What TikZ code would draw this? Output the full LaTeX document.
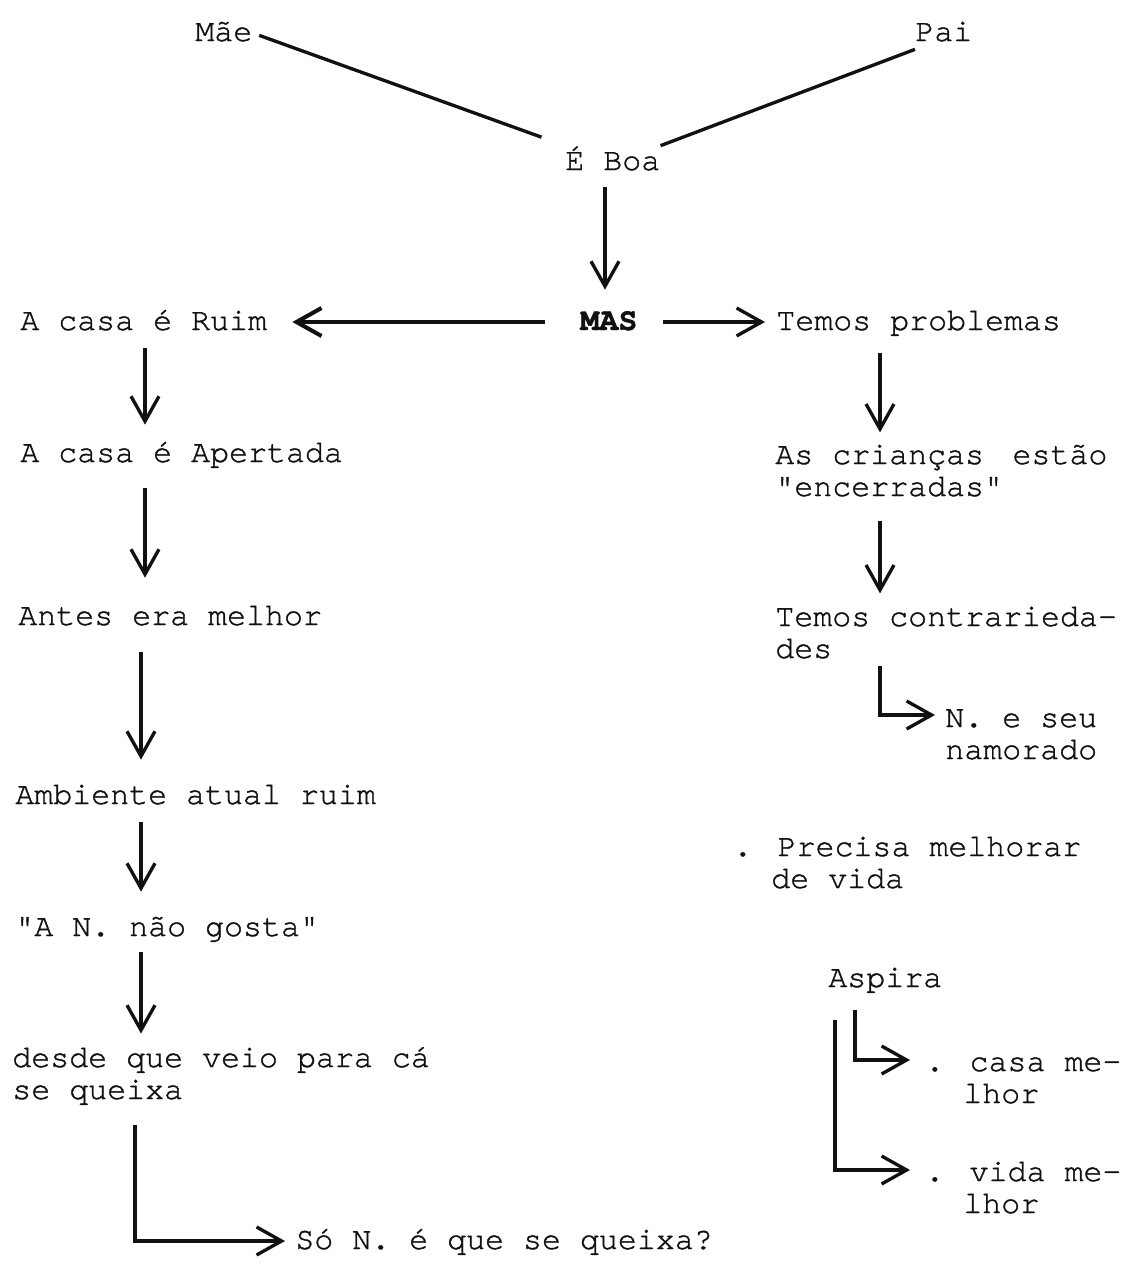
\documentclass[tikz,border=0pt]{standalone}
\usepackage{fontspec}
\setmainfont{TeX Gyre Cursor}[FakeBold=1.2]
\usetikzlibrary{arrows.meta,calc}
\definecolor{ink}{HTML}{111111}
\tikzset{
  phrase/.style={anchor=base west,inner sep=0pt,align=left,text=ink,
                 font=\fontsize{18}{18.2}\selectfont},
  oneline/.style={phrase,text height=0.48cm,text depth=0.16cm},
  flowarr/.style={-{Straight Barb[length=0.5cm,width=0.56cm]},line width=1.9pt,draw=ink},
  plainline/.style={line width=1.9pt,draw=ink}
}

\begin{document}
\begin{tikzpicture}[x=0.02cm,y=-0.02cm]
  \useasboundingbox (0,0) rectangle (1127,1285);
  % columns for the vertical arrows
  \coordinate (mid) at (605,0);
  \coordinate (colA) at (145,0);
  \coordinate (colB) at (141,0);
  \coordinate (colC) at (135,0);
  \coordinate (colR) at (880,0);
  \coordinate (aspA) at (855,0);
  \coordinate (aspB) at (835,0);

  % top: parents
  \node[oneline] (mae) at (195,41) {Mãe};
  \node[oneline] (pai) at (915,41) {Pai};
  \node[oneline] (eboa) at (565,170) {É Boa};
  \node[oneline,font=\fontsize{18}{18.2}\selectfont\bfseries] (mas) at (580,330) {MAS};
  \draw[plainline,shorten <=0.14cm,shorten >=0.5cm] (mae.east) -- (eboa.north west);
  \draw[plainline] (pai.south west) -- (eboa.north east);
  \draw[flowarr,shorten <=0.18cm,shorten >=0.32cm] (eboa.south -| mid) -- (mas.north -| mid);

  % left branch (two-line nodes sit on their last baseline)
  \node[oneline] (ruim) at (20,330) {A casa é Ruim};
  \node[oneline] (apertada) at (20,462) {A casa é Apertada};
  \node[oneline] (antes) at (18,625) {Antes era melhor};
  \node[oneline] (ambiente) at (15,804) {Ambiente atual ruim};
  \node[oneline] (gosta) at (15,936) {\textquotedbl A N. não gosta\textquotedbl};
  \node[phrase] (desde) at (12,1099) {desde que veio para cá\\se queixa};
  \node[oneline] (so) at (295,1249) {Só N. é que se queixa?};
  \draw[flowarr,line width=2.3pt,shorten <=0.7cm,shorten >=0.5cm] (mas.west) -- (ruim.east);
  \draw[flowarr,shorten <=0.2cm,shorten >=0.26cm] (ruim.south -| colA) -- (apertada.north -| colA);
  \draw[flowarr,shorten <=0.36cm,shorten >=0.46cm] (apertada.south -| colA) -- (antes.north -| colA);
  \draw[flowarr,shorten <=0.38cm,shorten >=0.4cm] (antes.south -| colB) -- (ambiente.north -| colB);
  \draw[flowarr,shorten <=0.2cm,shorten >=0.4cm] (ambiente.south -| colB) -- (gosta.north -| colB);
  \draw[flowarr,shorten <=0.16cm,shorten >=0.26cm] (gosta.south -| colB) -- (desde.north -| colB);
  \draw[flowarr,shorten <=0.4cm,shorten >=0.2cm] (desde.south -| colC) |- (so.west);

  % right branch
  \node[oneline] (problemas) at (776,330) {Temos problemas};
  \node[phrase] (criancas) at (775,496) {As crianças\hspace{0.3em} estão\\\textquotedbl encerradas\textquotedbl};
  \node[phrase] (contra) at (775,658) {Temos contrarieda-\\des};
  \node[phrase] (namorado) at (945,759) {N. e seu\\namorado};
  \node[phrase] (precisa) at (733,888) {. Precisa melhorar\\\phantom{.\ }de vida};
  \node[oneline] (aspira) at (828,987) {Aspira};
  \node[phrase] (casa) at (925,1103) {. casa me-\\\phantom{.\ }lhor};
  \node[phrase] (vida) at (925,1213) {. vida me-\\\phantom{.\ }lhor};
  \draw[flowarr,shorten <=0.5cm,shorten >=0.22cm] (mas.east) -- (problemas.west);
  \draw[flowarr,shorten <=0.3cm,shorten >=0.24cm] (problemas.south -| colR) -- (criancas.north -| colR);
  \draw[flowarr,shorten <=0.48cm,shorten >=0.26cm] (criancas.south -| colR) -- (contra.north -| colR);
  \draw[flowarr,shorten <=0.14cm,shorten >=0.2cm] (contra.south -| colR) |- ($(namorado.base west)+(0,-44)$);
  \draw[flowarr,shorten <=0.3cm,shorten >=0.3cm] (aspira.south -| aspA) |- ($(casa.base west)+(0,-43)$);
  \draw[flowarr,shorten <=0.5cm,shorten >=0.3cm] (aspira.south -| aspB) |- ($(vida.base west)+(0,-43)$);
\end{tikzpicture}
\end{document}
